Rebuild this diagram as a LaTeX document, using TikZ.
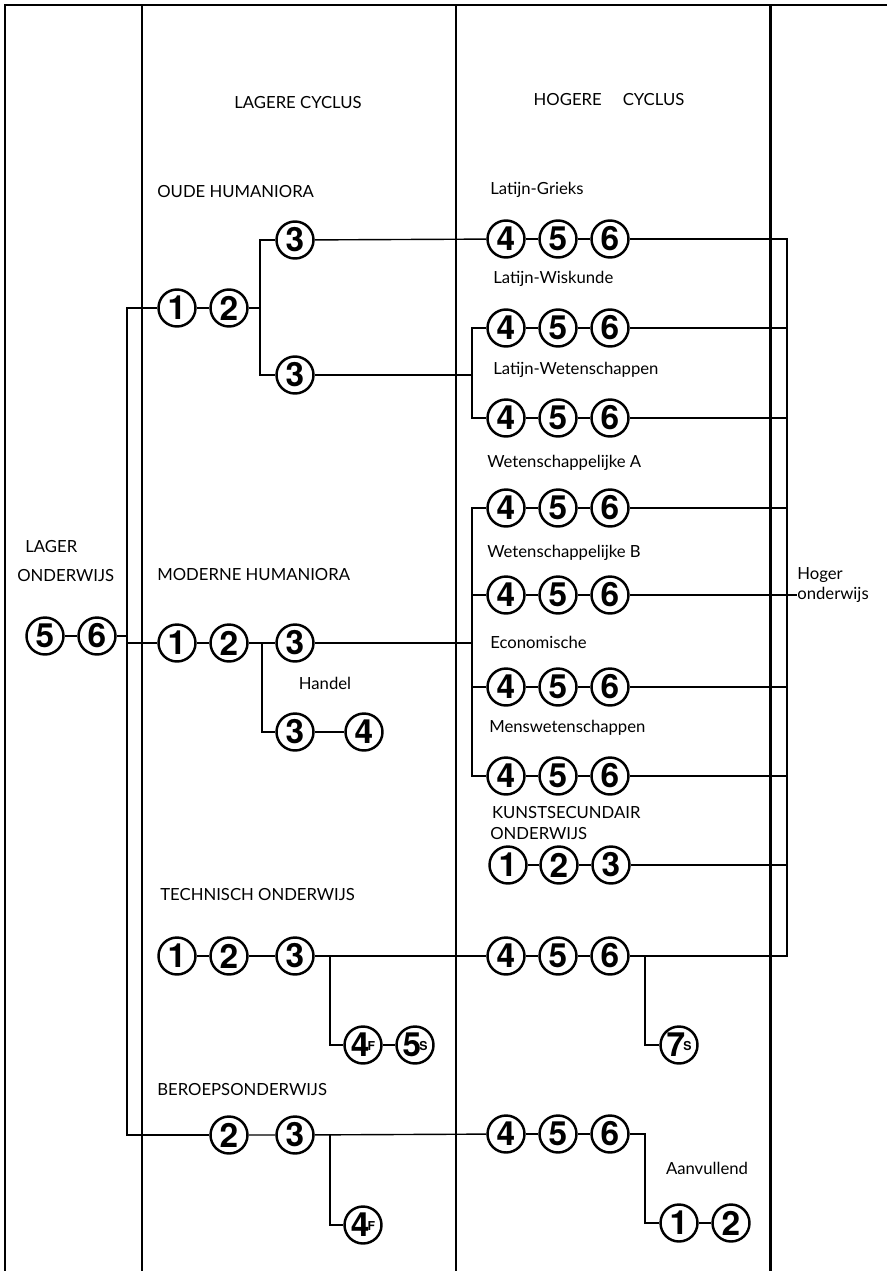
\documentclass[tikz,border=0pt]{standalone}
\usepackage{fontspec}
\usepackage{tikz}
\setmainfont{Lato}
\newfontfamily\cijferfont{TeX Gyre Heros}
\tikzset{
        jaar/.style={circle,draw,line width=1.4pt,minimum size=0.74cm,inner sep=0pt,
                font=\cijferfont\bfseries\fontsize{19}{19}\selectfont},
        tekst/.style={anchor=west,inner sep=0pt,font=\fontsize{9.5}{11.5}\selectfont},
        kader/.style={line width=1.7pt},
        lijn/.style={line width=0.8pt}
}
\newcommand{\jaar}[3]{\node[jaar] (#1) at (#2) {#3};}
\newcommand{\metletter}[2]{#1\hspace{-1pt}\raisebox{3.5pt}{\fontsize{7}{7}\selectfont #2}}

\begin{document}
\begin{tikzpicture}[x=0.02cm,y=-0.02cm]
        \useasboundingbox (0,0) rectangle (887,1271);

        % kader
        \draw[kader] (5,1271) -- (5,5) -- (887,5);
        \draw[kader] (142,5) -- (142,1271);
        \draw[kader] (456,5) -- (456,1271);
        \draw[kader] (770,5) -- (770,1271);

        % teksten
        \node[tekst,anchor=center] (lagc) at (298,103) {LAGERE CYCLUS};
        \node[tekst,anchor=center] (hogc) at (609,100) {HOGERE \quad CYCLUS};
        \node[tekst,align=left] (lager) at (17,561) {\hspace{0.16cm}LAGER\\[5pt]ONDERWIJS};
        \node[tekst] (oude) at (157,192) {OUDE HUMANIORA};
        \node[tekst] (moderne) at (157,575) {MODERNE HUMANIORA};
        \node[tekst] (techn) at (160,895) {TECHNISCH ONDERWIJS};
        \node[tekst] (beroeps) at (157,1090) {BEROEPSONDERWIJS};
        \node[tekst,anchor=center] (handel) at (325,683) {Handel};
        \node[tekst] (lgt) at (490,190) {Latijn-Grieks};
        \node[tekst] (lwt) at (493,279) {Latijn-Wiskunde};
        \node[tekst] (lwet) at (493,370) {Latijn-Wetenschappen};
        \node[tekst] (wat) at (487,463) {Wetenschappelijke A};
        \node[tekst] (wbt) at (487,553) {Wetenschappelijke B};
        \node[tekst] (ect) at (490,642) {Economische};
        \node[tekst] (mwt) at (489,728) {Menswetenschappen};
        \node[tekst,align=left] (kst) at (490,823) {\hspace{1pt}KUNSTSECUNDAIR\\ONDERWIJS};
        \node[tekst,align=left] (hoger) at (797,585) {Hoger\\onderwijs};
        \node[tekst,anchor=center] (aanv) at (707,1168) {Aanvullend};

        % lager onderwijs
        \jaar{lo5}{45,636}{5}
        \jaar{lo6}{97,636}{6}

        % lagere cyclus
        \jaar{oh1}{177,308}{1}
        \jaar{oh2}{229,308}{2}
        \jaar{oh3a}{295,240}{3}
        \jaar{oh3b}{295,375}{3}
        \jaar{mh1}{177,643}{1}
        \jaar{mh2}{229,643}{2}
        \jaar{mh3}{295,643}{3}
        \jaar{ha3}{295,732}{3}
        \jaar{ha4}{364,732}{4}
        \jaar{to1}{177,956}{1}
        \jaar{to2}{229,956}{2}
        \jaar{to3}{295,956}{3}
        \jaar{to4}{363,1045}{\metletter{4}{F}}
        \jaar{to5}{415,1045}{\metletter{5}{S}}
        \jaar{bo2}{229,1135}{2}
        \jaar{bo3}{295,1135}{3}
        \jaar{bo4}{363,1225}{\metletter{4}{F}}

        % hogere cyclus
        \jaar{lg4}{506,239}{4}
        \jaar{lg5}{558,239}{5}
        \jaar{lg6}{610,239}{6}
        \jaar{lw4}{506,328}{4}
        \jaar{lw5}{558,328}{5}
        \jaar{lw6}{610,328}{6}
        \jaar{lwe4}{506,418}{4}
        \jaar{lwe5}{558,418}{5}
        \jaar{lwe6}{610,418}{6}
        \jaar{wa4}{506,508}{4}
        \jaar{wa5}{558,508}{5}
        \jaar{wa6}{610,508}{6}
        \jaar{wb4}{506,595}{4}
        \jaar{wb5}{558,595}{5}
        \jaar{wb6}{610,595}{6}
        \jaar{ec4}{506,687}{4}
        \jaar{ec5}{558,687}{5}
        \jaar{ec6}{610,687}{6}
        \jaar{mw4}{506,776}{4}
        \jaar{mw5}{558,776}{5}
        \jaar{mw6}{610,776}{6}
        \jaar{ks1}{508,865}{1}
        \jaar{ks2}{559,865}{2}
        \jaar{ks3}{611,865}{3}
        \jaar{th4}{506,956}{4}
        \jaar{th5}{558,956}{5}
        \jaar{th6}{610,956}{6}
        \jaar{ts7}{679,1045}{\metletter{7}{S}}
        \jaar{bh4}{506,1134}{4}
        \jaar{bh5}{558,1134}{5}
        \jaar{bh6}{610,1134}{6}
        \jaar{av1}{679,1223}{1}
        \jaar{av2}{731,1223}{2}

        % knooppunten
        \coordinate (stam) at (127,1135);
        \coordinate (ohs) at (260,308);
        \coordinate (mhs) at (262,643);
        \coordinate (lws) at (472,375);
        \coordinate (ws) at (472,643);
        \coordinate (tos) at (330,956);
        \coordinate (bos) at (330,1135);
        \coordinate (ths) at (645,956);
        \coordinate (bhs) at (645,1134);
        \coordinate (bus) at (787,956);

        % verbindingen
        \draw[lijn] (lo5) -- (lo6);
        \draw[lijn] (lo6) -- (lo6 -| stam);
        \draw[lijn] (oh1) -| (stam) -- (bo2);
        \draw[lijn] (mh1 -| stam) -- (mh1);

        \draw[lijn] (oh1) -- (oh2) -- (ohs);
        \draw[lijn] (oh3a) -| (ohs) |- (oh3b);
        \draw[lijn] (oh3a) -- (lg4);
        \draw[lijn] (oh3b) -- (lws);
        \draw[lijn] (lw4) -| (lws) |- (lwe4);

        \draw[lijn] (mh1) -- (mh2) -- (mh3);
        \draw[lijn] (mhs) |- (ha3);
        \draw[lijn] (ha3) -- (ha4);
        \draw[lijn] (mh3) -- (ws);
        \draw[lijn] (wa4) -| (ws) |- (mw4);
        \draw[lijn] (wb4) -- (wb4 -| ws);
        \draw[lijn] (ec4) -- (ec4 -| ws);

        \draw[lijn] (to1) -- (to2) -- (to3) -- (th4);
        \draw[lijn] (tos) |- (to4);
        \draw[lijn] (to4) -- (to5);
        \draw[lijn] (bo2) -- (bo3) -- (bh4);
        \draw[lijn] (bos) |- (bo4);

        \draw[lijn] (lg4) -- (lg5) -- (lg6);
        \draw[lijn] (lw4) -- (lw5) -- (lw6);
        \draw[lijn] (lwe4) -- (lwe5) -- (lwe6);
        \draw[lijn] (wa4) -- (wa5) -- (wa6);
        \draw[lijn] (wb4) -- (wb5) -- (wb6);
        \draw[lijn] (ec4) -- (ec5) -- (ec6);
        \draw[lijn] (mw4) -- (mw5) -- (mw6);
        \draw[lijn] (ks1) -- (ks2) -- (ks3);
        \draw[lijn] (th4) -- (th5) -- (th6);
        \draw[lijn] (bh4) -- (bh5) -- (bh6);

        % naar hoger onderwijs
        \draw[lijn] (lg6) -| (bus) -- (th6);
        \draw[lijn] (lw6) -- (lw6 -| bus);
        \draw[lijn] (lwe6) -- (lwe6 -| bus);
        \draw[lijn] (wa6) -- (wa6 -| bus);
        \draw[lijn] (wb6) -- (wb6 -| hoger.west);
        \draw[lijn] (ec6) -- (ec6 -| bus);
        \draw[lijn] (mw6) -- (mw6 -| bus);
        \draw[lijn] (ks3) -- (ks3 -| bus);

        \draw[lijn] (ths) |- (ts7);
        \draw[lijn] (bh6) -- (bhs) |- (av1);
        \draw[lijn] (av1) -- (av2);
\end{tikzpicture}
\end{document}
